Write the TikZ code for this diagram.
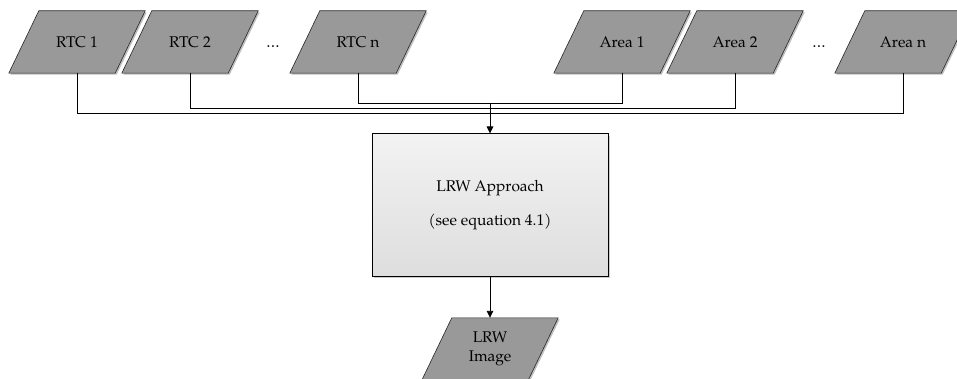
\documentclass[tikz,border=0pt]{standalone}
\usepackage{fontspec}
\setmainfont{TeX Gyre Pagella}
\usetikzlibrary{arrows.meta,shadows,backgrounds}
\newcommand\drawpara[1]{\draw[parashape] ([xshift=15pt]#1.north west) -- ([xshift=15pt]#1.north east) -- ([xshift=-15pt]#1.south east) -- ([xshift=-15pt]#1.south west) -- cycle;}
\begin{document}
\begin{tikzpicture}[x=1pt,y=-1pt,
  font=\fontsize{15.5}{18.6}\selectfont,
  para/.style={rectangle, minimum width=106pt, minimum height=62pt, inner sep=0pt},
  parashape/.style={draw=black!85, line width=0.6pt, fill=black!40,
    drop shadow={shadow xshift=1.5pt, shadow yshift=-1.5pt, fill=black!25, opacity=1}},
  proc/.style={rectangle, draw=black, line width=1pt, minimum width=236pt, minimum height=142pt,
    top color=black!5, bottom color=black!13, align=center,
    drop shadow={shadow xshift=2pt, shadow yshift=-2pt, fill=black!20, opacity=1}},
  conn/.style={draw=black, line width=0.9pt},
  arr/.style={conn, -{Triangle[length=7pt,width=6.5pt]}}
]
\useasboundingbox (0,0) rectangle (957,379);
\node[para] (r1) at (77,42) {RTC 1};
\node[para] (r2) at (190,42) {RTC 2};
\node (d1) at (273,47) {\dots};
\node[para] (rn) at (358,42) {RTC n};
\node[para] (a1) at (622,42) {Area 1};
\node[para] (a2) at (735,42) {Area 2};
\node (d2) at (819,47) {\dots};
\node[para] (an) at (903,42) {Area n};
\node[proc] (lrw) at (490,205) {LRW Approach\\[15pt](see equation 4.1)};
\node[para, align=center] (img) at (490,349) {LRW\\Image};
\begin{scope}[on background layer]
\drawpara{r1}
\drawpara{r2}
\drawpara{rn}
\drawpara{a1}
\drawpara{a2}
\drawpara{an}
\drawpara{img}
\end{scope}
\coordinate (j) at (490,103);
\draw[conn] (rn.south) -- ++(0,30) -| (a1.south);
\draw[conn] (r2.south) -- ++(0,35) -| (a2.south);
\draw[conn] (r1.south) -- ++(0,40) -| (an.south);
\draw[arr] (j) -- (lrw.north);
\draw[arr] (lrw.south) -- (img.north);
\end{tikzpicture}
\end{document}
